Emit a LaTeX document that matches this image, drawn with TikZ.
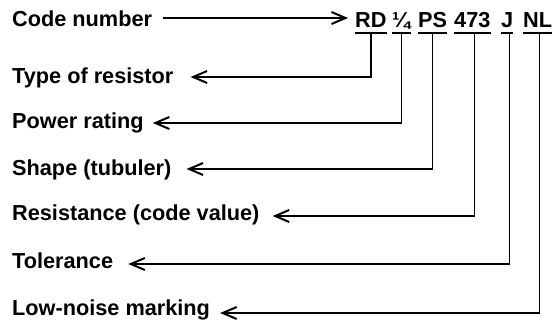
\documentclass[tikz,border=0pt]{standalone}
\usepackage{fontspec}
\setmainfont{Liberation Sans}
\usetikzlibrary{arrows.meta}
\tikzset{
  lab/.style={anchor=base west, inner sep=0pt, font=\fontsize{21.7pt}{24pt}\selectfont\bfseries},
  tok/.style={anchor=base west, inner xsep=0pt, inner ysep=5pt, text depth=0pt, font=\fontsize{21.7pt}{24pt}\selectfont\bfseries},
  conn/.style={line width=1.4pt, -{Straight Barb[length=14pt,width=12pt,line width=2pt]}},
  ul/.style={line width=1.6pt}
}
\begin{document}
\begin{tikzpicture}[x=1pt,y=1pt]
\fill[white] (0,0) rectangle (553,-321);
\useasboundingbox (0,0) rectangle (553,-321);
% labels
\node[lab] (code) at (12,-27) {Code number};
\node[lab] (type) at (12,-83) {Type of resistor};
\node[lab] (power) at (12,-128) {Power rating};
\node[lab] (shape) at (12,-175) {Shape (tubuler)};
\node[lab] (res) at (12,-220) {Resistance (code value)};
\node[lab] (tol) at (12,-268) {Tolerance};
\node[lab] (noise) at (12,-315) {Low-noise marking};
% code tokens
\node[tok] (rd) at (355,-28) {RD};
\node[tok] (q) at (392,-28) {¼};
\node[tok] (ps) at (418,-28) {PS};
\node[tok] (num) at (454,-28) {473};
\node[tok] (j) at (501,-28) {J};
\node[tok] (nl) at (523,-28) {NL};
% underlines
\foreach \t in {rd,q,ps,num,j,nl}{
  \draw[ul] (\t.south west) -- (\t.south east);
}
% main arrow
\draw[conn] ([xshift=11pt,yshift=9pt]code.base east) -- ([xshift=-7pt,yshift=10pt]rd.base west);
% connectors
\draw[conn] (rd.south) |- ([xshift=17pt,yshift=6pt]type.base east);
\draw[conn] (q.south) |- ([xshift=9pt,yshift=5pt]power.base east);
\draw[conn] (ps.south) |- ([xshift=15pt,yshift=6pt]shape.base east);
\draw[conn] ([xshift=2pt]num.south) |- ([xshift=13pt,yshift=4pt]res.base east);
\draw[conn] ([xshift=2pt]j.south) |- ([xshift=15pt,yshift=4pt]tol.base east);
\draw[conn] ([xshift=2pt]nl.south) |- ([xshift=10pt,yshift=2pt]noise.base east);
\end{tikzpicture}
\end{document}
